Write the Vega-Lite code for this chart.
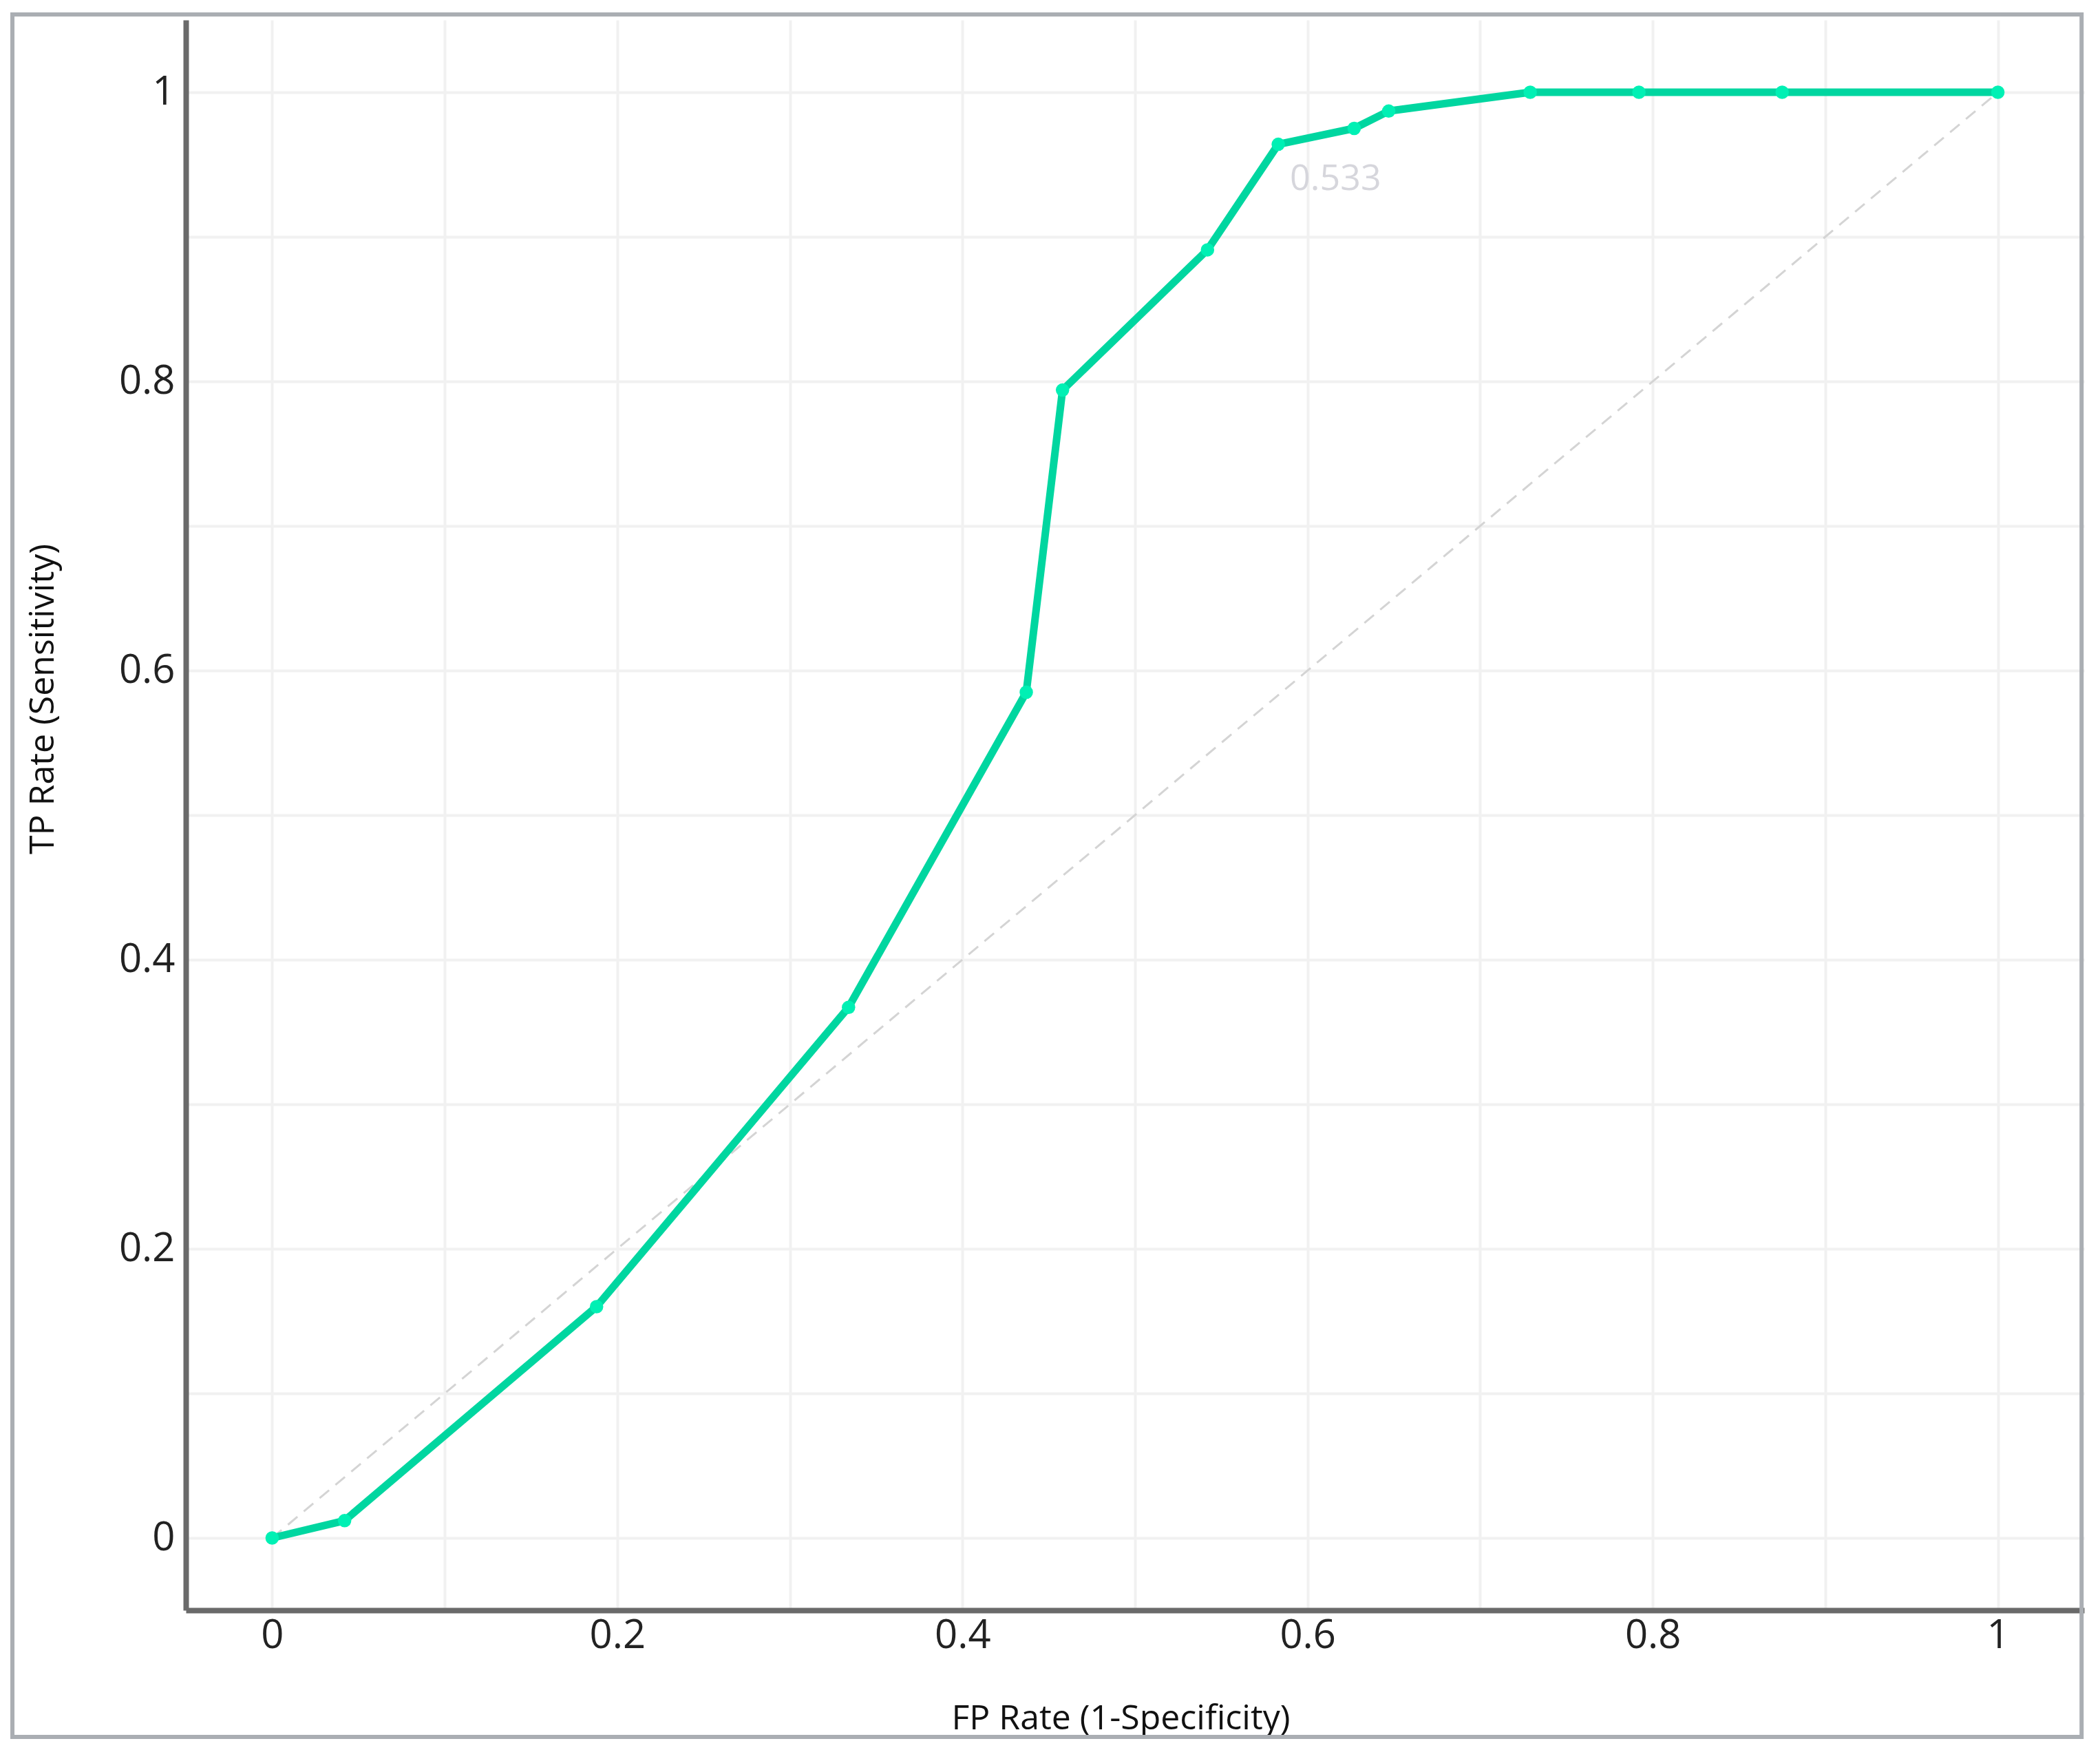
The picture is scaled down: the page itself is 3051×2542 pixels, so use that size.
{
  "$schema": "https://vega.github.io/schema/vega-lite/v6.json",
  "width": 2758,
  "height": 2310,
  "autosize": "none",
  "padding": {"left": 270, "top": 29, "right": 23, "bottom": 203},
  "background": "white",
  "config": {
    "view": {"stroke": null},
    "font": "Open Sans"
  },
  "datasets": {
    "roc": [
      {"fpr": 0.0, "tpr": 0.0},
      {"fpr": 0.042, "tpr": 0.012},
      {"fpr": 0.188, "tpr": 0.160},
      {"fpr": 0.334, "tpr": 0.367},
      {"fpr": 0.437, "tpr": 0.585},
      {"fpr": 0.458, "tpr": 0.794},
      {"fpr": 0.542, "tpr": 0.891},
      {"fpr": 0.583, "tpr": 0.964},
      {"fpr": 0.627, "tpr": 0.975},
      {"fpr": 0.647, "tpr": 0.987},
      {"fpr": 0.729, "tpr": 1.0},
      {"fpr": 0.792, "tpr": 1.0},
      {"fpr": 0.875, "tpr": 1.0},
      {"fpr": 1.0, "tpr": 1.0}
    ],
    "diag": [
      {"fpr": 0.0, "tpr": 0.0},
      {"fpr": 1.0, "tpr": 1.0}
    ],
    "note": [
      {"fpr": 0.583, "tpr": 0.964, "label": "0.533"}
    ]
  },
  "layer": [
    {
      "data": {"values": [{}]},
      "mark": {"type": "rect", "fill": "transparent", "stroke": "#aaaeb3", "strokeWidth": 6, "clip": false},
      "encoding": {
        "x": {"datum": -0.1505, "type": "quantitative", "scale": {"domain": [-0.05, 1.05], "nice": false, "zero": false}},
        "x2": {"datum": 1.0485},
        "y": {"datum": 1.0538, "type": "quantitative", "scale": {"domain": [-0.05, 1.05], "nice": false, "zero": false}},
        "y2": {"datum": -0.1376}
      }
    },
    {
      "data": {"name": "diag"},
      "mark": {"type": "line", "color": "#d4d4d4", "strokeWidth": 3, "strokeDash": [18, 12]},
      "encoding": {
        "x": {"field": "fpr", "type": "quantitative"},
        "y": {"field": "tpr", "type": "quantitative"}
      }
    },
    {
      "data": {"name": "roc"},
      "mark": {"type": "line", "color": "#00d6a0", "strokeWidth": 11, "strokeJoin": "round"},
      "encoding": {
        "x": {
          "field": "fpr", "type": "quantitative",
          "scale": {"domain": [-0.05, 1.05], "nice": false, "zero": false},
          "axis": {
            "title": "FP Rate (1-Specificity)",
            "values": [0, 0.1, 0.2, 0.3, 0.4, 0.5, 0.6, 0.7, 0.8, 0.9, 1],
            "labelExpr": "round(datum.value*10) % 2 == 0 ? format(datum.value, '~g') : ''",
            "grid": true, "gridColor": "#f1f1f1", "gridWidth": 4,
            "ticks": false, "tickSize": 0,
            "domain": true, "domainColor": "#6a6a6a", "domainWidth": 8,
            "labelFont": "Open Sans", "labelFontSize": 58, "labelColor": "#222222", "labelPadding": 8,
            "labelFlush": false, "labelOverlap": false,
            "titleFont": "Open Sans", "titleFontSize": 50, "titleFontWeight": "normal", "titleColor": "#111111",
            "titleX": 1358, "titleY": 172, "titleBaseline": "alphabetic", "titleAnchor": null
          }
        },
        "y": {
          "field": "tpr", "type": "quantitative",
          "scale": {"domain": [-0.05, 1.05], "nice": false, "zero": false},
          "axis": {
            "title": "TP Rate (Sensitivity)",
            "values": [0, 0.1, 0.2, 0.3, 0.4, 0.5, 0.6, 0.7, 0.8, 0.9, 1],
            "labelExpr": "round(datum.value*10) % 2 == 0 ? format(datum.value, '~g') : ''",
            "grid": true, "gridColor": "#f1f1f1", "gridWidth": 4,
            "ticks": false, "tickSize": 0,
            "domain": true, "domainColor": "#6a6a6a", "domainWidth": 8,
            "labelFont": "Open Sans", "labelFontSize": 58, "labelColor": "#222222", "labelPadding": 16,
            "labelFlush": false, "labelOverlap": false,
            "titleFont": "Open Sans", "titleFontSize": 50, "titleFontWeight": "normal", "titleColor": "#111111",
            "titleX": -208, "titleY": 986, "titleAngle": -90, "titleBaseline": "middle", "titleAlign": "center"
          }
        }
      }
    },
    {
      "data": {"name": "roc"},
      "mark": {"type": "point", "filled": true, "color": "#00f0b4", "size": 380, "opacity": 1},
      "encoding": {
        "x": {"field": "fpr", "type": "quantitative"},
        "y": {"field": "tpr", "type": "quantitative"}
      }
    },
    {
      "data": {"name": "note"},
      "mark": {"type": "text", "align": "left", "baseline": "middle", "dx": 17, "dy": 50, "fontSize": 52, "font": "Open Sans", "color": "#d6d6dc"},
      "encoding": {
        "x": {"field": "fpr", "type": "quantitative"},
        "y": {"field": "tpr", "type": "quantitative"},
        "text": {"field": "label"}
      }
    }
  ]
}
